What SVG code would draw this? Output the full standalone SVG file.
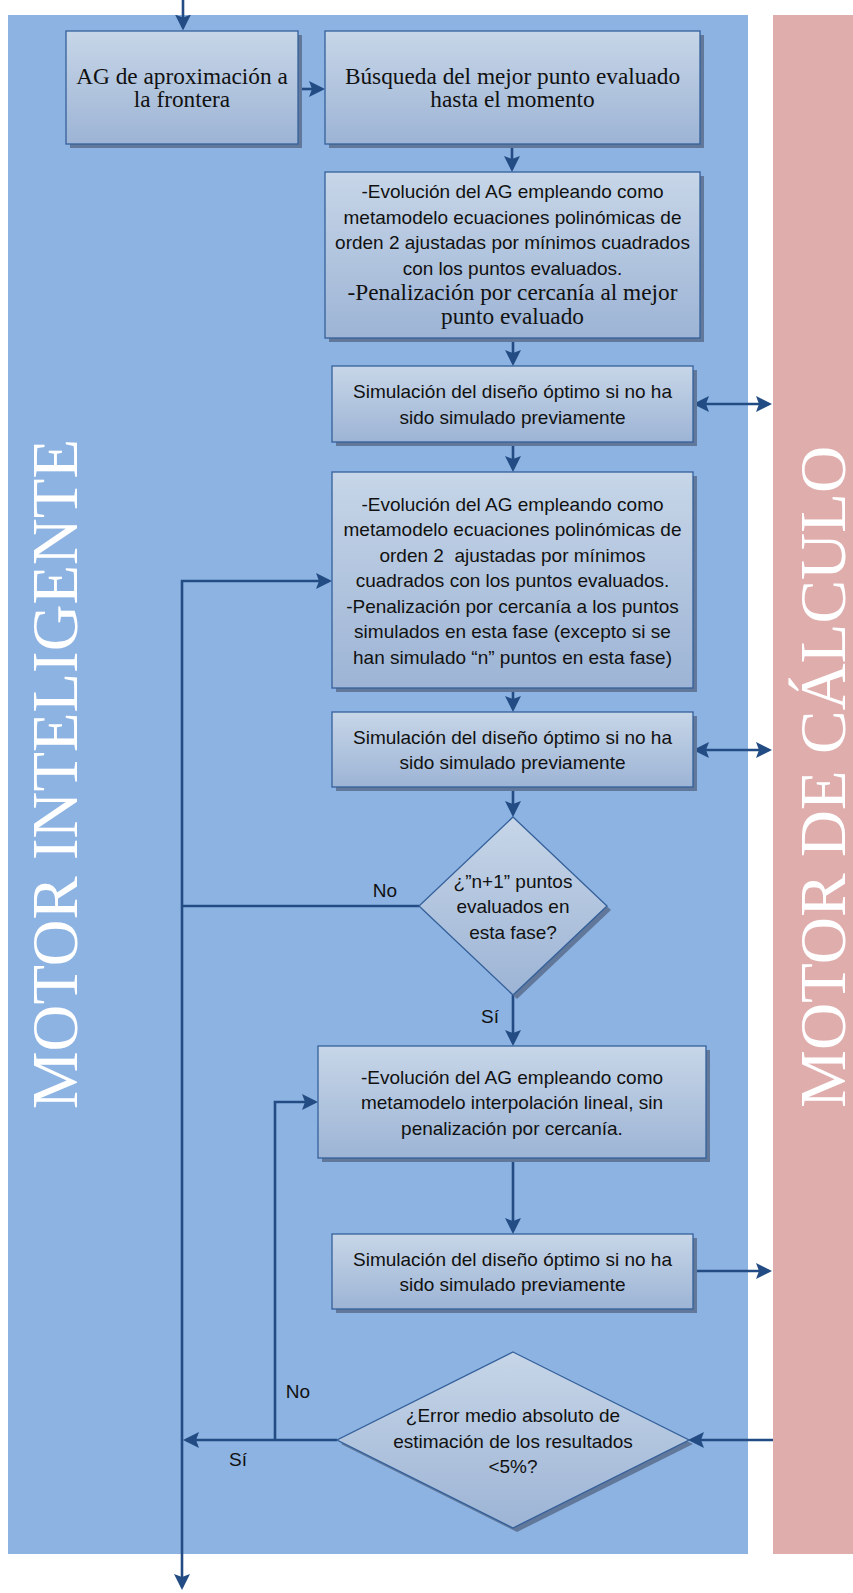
<svg xmlns="http://www.w3.org/2000/svg" width="853" height="1593" viewBox="0 0 853 1593">
<defs>
<linearGradient id="gbox" x1="0" y1="0" x2="0" y2="1">
<stop offset="0" stop-color="#C7D6E8"/>
<stop offset="1" stop-color="#9DB4D5"/>
</linearGradient>
<marker id="ah" markerUnits="userSpaceOnUse" markerWidth="17" markerHeight="16" refX="13" refY="8" orient="auto-start-reverse">
<path d="M0,0 L16,8 L0,16 L3,8 Z" fill="#224C83"/>
</marker>
<style>
.shadow{fill:#61789B;}
.box{fill:url(#gbox);stroke:#34609A;stroke-width:1.3;}
.con{fill:none;stroke:#224C83;stroke-width:2.6;}
.sans{font-family:"Liberation Sans",Arial,sans-serif;font-size:19px;fill:#111;text-anchor:middle;}
.serif{font-family:"Liberation Serif","Times New Roman",serif;font-size:23.3px;fill:#111;text-anchor:middle;}
.lane{font-family:"Liberation Serif","Times New Roman",serif;font-size:66px;fill:#FFFFFF;text-anchor:middle;}
</style>
</defs>

<g id="lane-inteligente">
<rect x="8" y="15" width="740" height="1539" fill="#8DB3E2"/>
<text class="lane" transform="translate(77,774) rotate(-90)" textLength="670" lengthAdjust="spacingAndGlyphs">MOTOR INTELIGENTE</text>
</g>
<g id="lane-calculo">
<rect x="773" y="15" width="80" height="1539" fill="#E0ADAD"/>
<text class="lane" transform="translate(845,777) rotate(-90)" textLength="662" lengthAdjust="spacingAndGlyphs">MOTOR DE CÁLCULO</text>
</g>

<g id="connectors">
<path class="con" d="M183,0 V27.5" marker-end="url(#ah)"/>
<path class="con" d="M298,89 H322" marker-end="url(#ah)"/>
<path class="con" d="M512,144 V169" marker-end="url(#ah)"/>
<path class="con" d="M513,338 V363" marker-end="url(#ah)"/>
<path class="con" d="M696,404 H769" marker-start="url(#ah)" marker-end="url(#ah)"/>
<path class="con" d="M513,442 V469" marker-end="url(#ah)"/>
<path class="con" d="M182,580 V1587" marker-end="url(#ah)"/>
<path class="con" d="M181,581 H329" marker-end="url(#ah)"/>
<path class="con" d="M513,688 V709" marker-end="url(#ah)"/>
<path class="con" d="M696,750 H769" marker-start="url(#ah)" marker-end="url(#ah)"/>
<path class="con" d="M513,787 V814" marker-end="url(#ah)"/>
<path class="con" d="M419,906 H182"/>
<path class="con" d="M513,995 V1043" marker-end="url(#ah)"/>
<path class="con" d="M513,1158 V1231" marker-end="url(#ah)"/>
<path class="con" d="M693,1271 H769" marker-end="url(#ah)"/>
<path class="con" d="M773,1440 H691" marker-end="url(#ah)"/>
<path class="con" d="M337,1440 H186" marker-end="url(#ah)"/>
<path class="con" d="M275,1440 V1102 H315" marker-end="url(#ah)"/>
<text class="sans" x="385" y="897">No</text>
<text class="sans" x="490" y="1023">Sí</text>
<text class="sans" x="298" y="1398">No</text>
<text class="sans" x="238" y="1466">Sí</text>
</g>

<g id="n-ag">
<rect class="shadow" x="70" y="35" width="232" height="113"/>
<rect class="box" x="66" y="31" width="232" height="113"/>
<text class="serif" x="182" y="84">AG de aproximación a</text>
<text class="serif" x="182" y="107">la frontera</text>
</g>

<g id="n-busqueda">
<rect class="shadow" x="329" y="35" width="375" height="113"/>
<rect class="box" x="325" y="31" width="375" height="113"/>
<text class="serif" x="512.5" y="84">Búsqueda del mejor punto evaluado</text>
<text class="serif" x="512.5" y="107">hasta el momento</text>
</g>

<g id="n-evol1">
<rect class="shadow" x="329" y="176" width="375" height="166"/>
<rect class="box" x="325" y="172" width="375" height="166"/>
<text class="sans" x="512.5" y="198">-Evolución del AG empleando como</text>
<text class="sans" x="512.5" y="223.5">metamodelo ecuaciones polinómicas de</text>
<text class="sans" x="512.5" y="249">orden 2 ajustadas por mínimos cuadrados</text>
<text class="sans" x="512.5" y="274.5">con los puntos evaluados.</text>
<text class="serif" x="512.5" y="300">-Penalización por cercanía al mejor</text>
<text class="serif" x="512.5" y="324">punto evaluado</text>
</g>

<g id="n-sim1">
<rect class="shadow" x="336" y="370" width="361" height="76"/>
<rect class="box" x="332" y="366" width="361" height="76"/>
<text class="sans" x="512.5" y="398">Simulación del diseño óptimo si no ha</text>
<text class="sans" x="512.5" y="423.5">sido simulado previamente</text>
</g>

<g id="n-evol2">
<rect class="shadow" x="336" y="476" width="361" height="216"/>
<rect class="box" x="332" y="472" width="361" height="216"/>
<text class="sans" x="512.5" y="510.5">-Evolución del AG empleando como</text>
<text class="sans" x="512.5" y="536">metamodelo ecuaciones polinómicas de</text>
<text class="sans" x="512.5" y="561.5" xml:space="preserve">orden 2  ajustadas por mínimos</text>
<text class="sans" x="512.5" y="587">cuadrados con los puntos evaluados.</text>
<text class="sans" x="512.5" y="612.5">-Penalización por cercanía a los puntos</text>
<text class="sans" x="512.5" y="638">simulados en esta fase (excepto si se</text>
<text class="sans" x="512.5" y="663.5">han simulado “n” puntos en esta fase)</text>
</g>

<g id="n-sim2">
<rect class="shadow" x="336" y="716" width="361" height="75"/>
<rect class="box" x="332" y="712" width="361" height="75"/>
<text class="sans" x="512.5" y="743.5">Simulación del diseño óptimo si no ha</text>
<text class="sans" x="512.5" y="769">sido simulado previamente</text>
</g>

<g id="n-dec1">
<path class="shadow" d="M517,821 L611,910 L517,999 L423,910 Z"/>
<path class="box" d="M513,817 L607,906 L513,995 L419,906 Z"/>
<text class="sans" x="513" y="887.5">¿”n+1” puntos</text>
<text class="sans" x="513" y="913">evaluados en</text>
<text class="sans" x="513" y="938.5">esta fase?</text>
</g>

<g id="n-evol3">
<rect class="shadow" x="322" y="1050" width="388" height="112"/>
<rect class="box" x="318" y="1046" width="388" height="112"/>
<text class="sans" x="512" y="1083.5">-Evolución del AG empleando como</text>
<text class="sans" x="512" y="1109">metamodelo interpolación lineal, sin</text>
<text class="sans" x="512" y="1134.5">penalización por cercanía.</text>
</g>

<g id="n-sim3">
<rect class="shadow" x="336" y="1238" width="361" height="75"/>
<rect class="box" x="332" y="1234" width="361" height="75"/>
<text class="sans" x="512.5" y="1265.5">Simulación del diseño óptimo si no ha</text>
<text class="sans" x="512.5" y="1291">sido simulado previamente</text>
</g>

<g id="n-dec2">
<path class="shadow" d="M517,1356 L693,1444 L517,1532 L341,1444 Z"/>
<path class="box" d="M513,1352 L689,1440 L513,1528 L337,1440 Z"/>
<text class="sans" x="513" y="1422">¿Error medio absoluto de</text>
<text class="sans" x="513" y="1447.5">estimación de los resultados</text>
<text class="sans" x="513" y="1473">&lt;5%?</text>
</g>
</svg>
